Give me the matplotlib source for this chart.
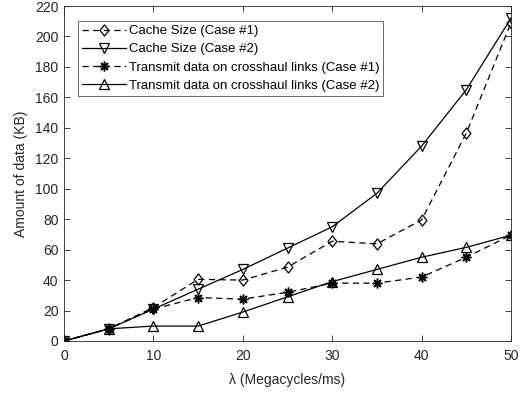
import matplotlib
matplotlib.use("Agg")
from matplotlib import pyplot as plt
from matplotlib.markers import MarkerStyle
from matplotlib.path import Path

plt.rcParams['font.family'] = ['Liberation Sans', 'DejaVu Sans']

lam = [0, 5, 10, 15, 20, 25, 30, 35, 40, 45, 50]
cache_case1 = [0, 8, 22, 40.5, 40, 48.5, 65.5, 63.8, 79.5, 136.5, 209]
cache_case2 = [0, 8, 21, 34, 47, 61, 75, 97, 128, 165, 212]
trans_case1 = [0, 8, 21, 28.5, 27.5, 32, 38, 38, 42, 55, 69.5]
trans_case2 = [0, 8, 9.8, 9.8, 19, 29, 39, 47, 55, 61.5, 69.5]

labels = ["Cache Size (Case #1)", "Cache Size (Case #2)",
          "Transmit data on crosshaul links (Case #1)",
          "Transmit data on crosshaul links (Case #2)"]

# matlab style diamond, a bit taller than wide
diamond = Path([(0, 1), (0.8, 0), (0, -1), (-0.8, 0), (0, 1)], closed=True)

fig = plt.figure(figsize=(5.22, 3.93), dpi=100)
ax = fig.add_axes([64/522, 1-341/393, (511-64)/522, (341-6)/393])

lw = 0.9
ms = 7
ax.plot(lam, cache_case1, 'k--', marker=diamond, ms=8, mfc='none', lw=lw, mew=0.9,
        dashes=(5, 3.5), label=labels[0])
ax.plot(lam, cache_case2, 'k-', marker='v', ms=ms, mfc='none', lw=lw, mew=0.9,
        label=labels[1])
ax.plot(lam, trans_case1, 'k--', marker=(8, 2, 0), ms=ms, lw=lw, mew=1.1,
        dashes=(5, 3.5), label=labels[2])
ax.plot(lam, trans_case2, 'k-', marker='^', ms=ms, mfc='none', lw=lw, mew=0.9,
        label=labels[3])

ax.set_xlim(0, 50)
ax.set_ylim(0, 220)
ax.set_xticks(range(0, 51, 10))
ax.set_yticks(range(0, 221, 20))
ax.tick_params(direction='in', top=True, right=True, labelsize=10, length=4,
               width=0.6, colors='#262626', labelcolor='#262626')
ax.tick_params(axis='x', pad=6)
ax.tick_params(axis='y', pad=4)
for s in ax.spines.values():
    s.set_linewidth(0.6)
    s.set_color('#262626')

ax.set_xlabel("λ (Megacycles/ms)", fontsize=10, color='#262626', labelpad=7)
ax.set_ylabel("Amount of data (KB)", fontsize=10, color='#262626', labelpad=5)

leg = ax.legend(loc='upper left', bbox_to_anchor=(14/447, 1-15/335), fontsize=9.5,
                frameon=True, fancybox=False, edgecolor='#262626',
                handlelength=3.3, handletextpad=0.25, borderpad=0.3,
                labelspacing=0.45, borderaxespad=0)
leg.get_frame().set_linewidth(0.6)

fig.savefig("out.png", dpi=100)
